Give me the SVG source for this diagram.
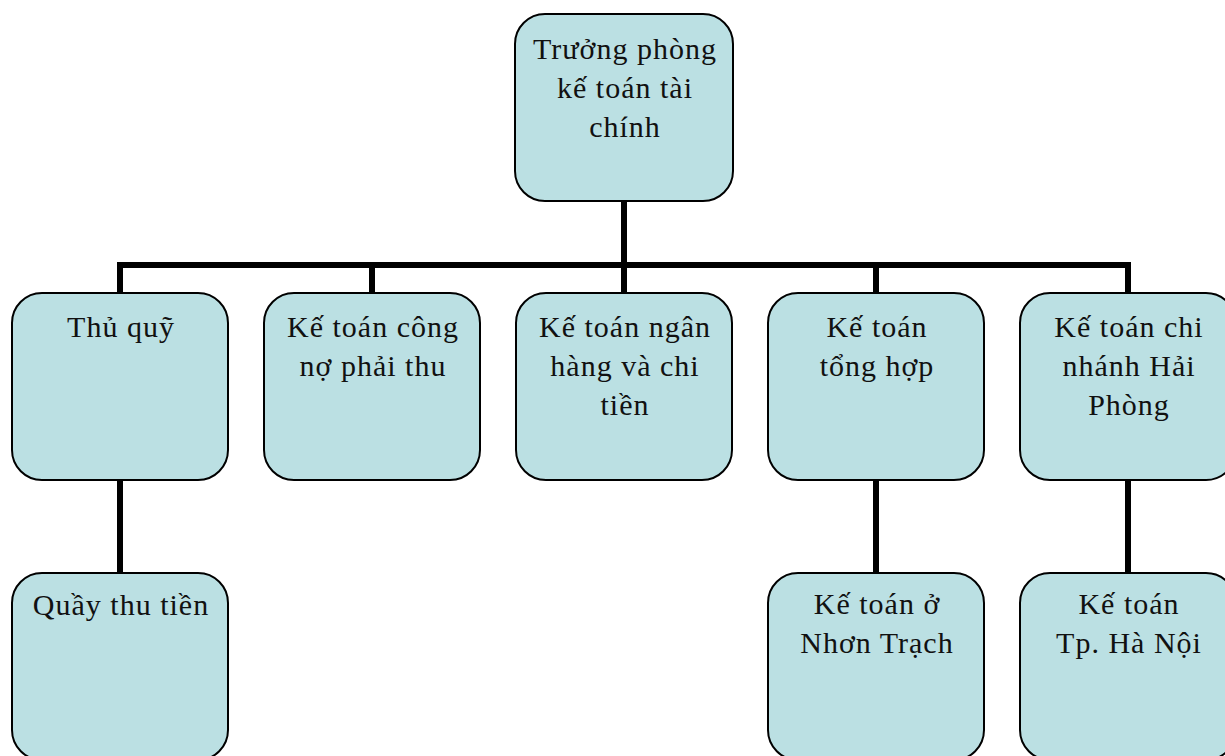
<svg xmlns="http://www.w3.org/2000/svg" width="1225" height="756" viewBox="0 0 1225 756">
  <style>
    .box { fill: #BBE0E3; stroke: #000; stroke-width: 2; }
    .lbl { font-family: "Liberation Serif", "Times New Roman", serif; font-size: 30px; letter-spacing: 1px; fill: #111; text-anchor: middle; }
    .wire { stroke: #000; stroke-width: 6; fill: none; stroke-linecap: butt; }
  </style>
  <rect width="1225" height="756" fill="#fff"/>

  <!-- connectors -->
  <g id="connectors">
    <path class="wire" d="M624 200 V265"/>
    <path class="wire" d="M117 265 H1131"/>
    <path class="wire" d="M120 265 V294"/>
    <path class="wire" d="M372 265 V294"/>
    <path class="wire" d="M624 265 V294"/>
    <path class="wire" d="M876 265 V294"/>
    <path class="wire" d="M1128 265 V294"/>
    <path class="wire" d="M120 480 V574"/>
    <path class="wire" d="M876 480 V574"/>
    <path class="wire" d="M1128 480 V574"/>
  </g>

  <g id="truong-phong">
    <rect class="box" x="515" y="14" width="218" height="187" rx="30"/>
    <text class="lbl" x="625" y="59">Trưởng phòng</text>
    <text class="lbl" x="625" y="98">kế toán tài</text>
    <text class="lbl" x="625" y="137">chính</text>
  </g>

  <g id="thu-quy">
    <rect class="box" x="12" y="293" width="216" height="187" rx="30"/>
    <text class="lbl" x="121" y="337">Thủ quỹ</text>
  </g>

  <g id="cong-no">
    <rect class="box" x="264" y="293" width="216" height="187" rx="30"/>
    <text class="lbl" x="373" y="337">Kế toán công</text>
    <text class="lbl" x="373" y="376">nợ phải thu</text>
  </g>

  <g id="ngan-hang">
    <rect class="box" x="516" y="293" width="216" height="187" rx="30"/>
    <text class="lbl" x="625" y="337">Kế toán ngân</text>
    <text class="lbl" x="625" y="376">hàng và chi</text>
    <text class="lbl" x="625" y="415">tiền</text>
  </g>

  <g id="tong-hop">
    <rect class="box" x="768" y="293" width="216" height="187" rx="30"/>
    <text class="lbl" x="877" y="337">Kế toán</text>
    <text class="lbl" x="877" y="376">tổng hợp</text>
  </g>

  <g id="hai-phong">
    <rect class="box" x="1020" y="293" width="216" height="187" rx="30"/>
    <text class="lbl" x="1129" y="337">Kế toán chi</text>
    <text class="lbl" x="1129" y="376">nhánh Hải</text>
    <text class="lbl" x="1129" y="415">Phòng</text>
  </g>

  <g id="quay-thu-tien">
    <rect class="box" x="12" y="573" width="216" height="187" rx="30"/>
    <text class="lbl" x="121" y="615">Quầy thu tiền</text>
  </g>

  <g id="nhon-trach">
    <rect class="box" x="768" y="573" width="216" height="187" rx="30"/>
    <text class="lbl" x="877" y="614">Kế toán ở</text>
    <text class="lbl" x="877" y="653">Nhơn Trạch</text>
  </g>

  <g id="ha-noi">
    <rect class="box" x="1020" y="573" width="216" height="187" rx="30"/>
    <text class="lbl" x="1129" y="614">Kế toán</text>
    <text class="lbl" x="1129" y="653">Tp. Hà Nội</text>
  </g>
</svg>
